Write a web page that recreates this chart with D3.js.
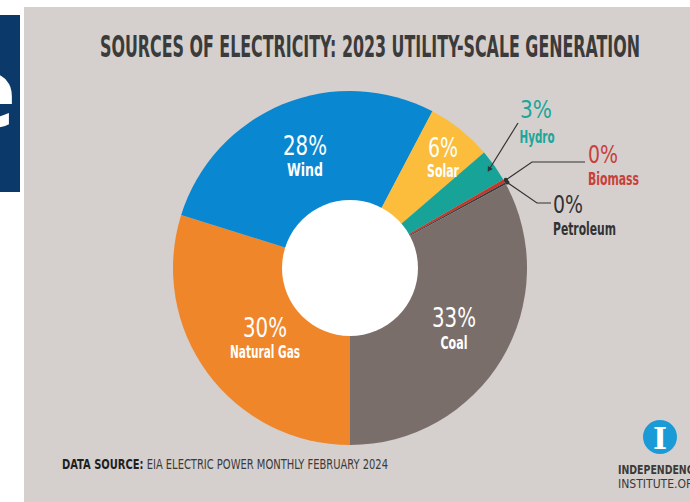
<!DOCTYPE html>
<html>
<head>
<meta charset="utf-8">
<script src="https://cdn.jsdelivr.net/npm/d3@7"></script>
<style>
  html, body { margin: 0; padding: 0; background: #ffffff; }
  svg { display: block; }
  .cond { font-family: 'Liberation Sans Narrow', 'DejaVu Sans Condensed', sans-serif; }
</style>
</head>
<body>
<svg id="chart" width="690" height="502"></svg>
<script>
// ---- data ----
const categories = ["Natural Gas", "Wind", "Solar", "Hydro", "Biomass", "Petroleum", "Coal"];
const values     = [30, 28, 6, 3, 0.3, 0.2, 33];
const labelsPct  = ["30%", "28%", "6%", "3%", "0%", "0%", "33%"];
const colors     = ["#f0862a", "#0a87d1", "#fbbd3b", "#17a398", "#c0392b", "#3a3a3a", "#7a6e6b"];
const titleText  = "SOURCES OF ELECTRICITY: 2023 UTILITY-SCALE GENERATION";
const sourceBold = "DATA SOURCE:";
const sourceText = " EIA ELECTRIC POWER MONTHLY FEBRUARY 2024";

const svg = d3.select("#chart");
const W = 690, H = 502;

// white page + left dark blue block with clipped letter
svg.append("rect").attr("width", W).attr("height", H).attr("fill", "#ffffff");
svg.append("clipPath").attr("id", "blockClip")
  .append("rect").attr("x", 0).attr("y", 15).attr("width", 20).attr("height", 177);
svg.append("rect").attr("x", 0).attr("y", 15).attr("width", 20).attr("height", 177).attr("fill", "#0b3a6a");
svg.append("text").attr("clip-path", "url(#blockClip)")
  .attr("x", 16).attr("y", 127).attr("text-anchor", "end")
  .attr("font-family", "'Open Sans', sans-serif").attr("font-weight", 700)
  .attr("font-size", 96).attr("fill", "#ffffff").text("e");

// panel
svg.append("rect").attr("x", 24).attr("y", 7).attr("width", W - 24).attr("height", H - 7).attr("fill", "#d5d0ce");

// title
svg.append("text").attr("class", "cond")
  .attr("x", 100).attr("y", 57)
  .attr("font-size", 31).attr("font-weight", 700)
  .attr("fill", "#3b3b3b")
  .attr("textLength", 540).attr("lengthAdjust", "spacingAndGlyphs")
  .text(titleText);

// donut
const cx = 350, cy = 268, outerR = 177, innerR = 68;
const data = categories.map((c, i) => ({ name: c, value: values[i], pct: labelsPct[i], color: colors[i] }));
const pie = d3.pie().value(d => d.value).sort(null).startAngle(Math.PI).endAngle(3 * Math.PI);
const arcs = pie(data);
const arc = d3.arc().innerRadius(0).outerRadius(outerR);

const g = svg.append("g").attr("transform", `translate(${cx},${cy})`);
g.selectAll("path.slice").data(arcs).enter().append("path")
  .attr("class", "slice")
  .attr("d", arc)
  .attr("fill", d => d.data.color);
g.append("circle").attr("r", innerR).attr("fill", "#ffffff");

function pt(a, r) { return [cx + r * Math.sin(a), cy - r * Math.cos(a)]; }
function mid(d) { return (d.startAngle + d.endAngle) / 2; }

// in-slice labels (white)
const inside = {
  "Natural Gas": [265, 337, 358],
  "Wind": [305, 155, 176],
  "Solar": [443, 157, 177],
  "Coal": [454, 327, 349]
};
arcs.forEach(d => {
  const p = inside[d.data.name];
  if (!p) return;
  svg.append("text").attr("class", "cond").attr("x", p[0]).attr("y", p[1])
    .attr("text-anchor", "middle").attr("font-size", 27).attr("fill", "#ffffff")
    .attr("textLength", d.data.pct.length === 2 ? 30 : 44).attr("lengthAdjust", "spacingAndGlyphs")
    .text(d.data.pct);
  const nameLen = { "Natural Gas": 70, "Wind": 36, "Solar": 32, "Coal": 27 }[d.data.name];
  svg.append("text").attr("class", "cond").attr("x", p[0]).attr("y", p[2])
    .attr("text-anchor", "middle").attr("font-size", 17).attr("font-weight", 700).attr("fill", "#ffffff")
    .attr("textLength", nameLen).attr("lengthAdjust", "spacingAndGlyphs")
    .text(d.data.name);
});

// outside labels with leader lines
const lineColor = "#333333";
const hydro = arcs[3], bio = arcs[4], pet = arcs[5];

// Hydro
const hEnd = pt(mid(hydro), outerR - 6);
svg.append("line").attr("x1", 518).attr("y1", 123).attr("x2", hEnd[0]).attr("y2", hEnd[1])
  .attr("stroke", lineColor).attr("stroke-width", 1.2);
svg.append("path").attr("d", d3.symbol().type(d3.symbolTriangle).size(14)())
  .attr("transform", `translate(${hEnd[0]},${hEnd[1]}) rotate(${Math.atan2(hEnd[1] - 123, hEnd[0] - 518) * 180 / Math.PI + 90})`)
  .attr("fill", lineColor);
svg.append("text").attr("class", "cond").attr("x", 536).attr("y", 118).attr("text-anchor", "middle")
  .attr("font-size", 25).attr("fill", "#1aa69a").attr("textLength", 32).attr("lengthAdjust", "spacingAndGlyphs").text(hydro.data.pct);
svg.append("text").attr("class", "cond").attr("x", 537).attr("y", 143).attr("text-anchor", "middle")
  .attr("font-size", 17).attr("font-weight", 700).attr("fill", "#1aa69a").attr("textLength", 35).attr("lengthAdjust", "spacingAndGlyphs").text(hydro.data.name);

// Biomass
const bEnd = pt(mid(bio), outerR + 2);
svg.append("polyline").attr("points", `585,162 532,162 ${bEnd[0]},${bEnd[1]}`)
  .attr("fill", "none").attr("stroke", lineColor).attr("stroke-width", 1.2);
svg.append("circle").attr("cx", bEnd[0]).attr("cy", bEnd[1]).attr("r", 2.2).attr("fill", lineColor);
svg.append("text").attr("class", "cond").attr("x", 588).attr("y", 163)
  .attr("font-size", 25).attr("fill", "#c8403a").attr("textLength", 30).attr("lengthAdjust", "spacingAndGlyphs").text(bio.data.pct);
svg.append("text").attr("class", "cond").attr("x", 588).attr("y", 185)
  .attr("font-size", 17).attr("font-weight", 700).attr("fill", "#c8403a").attr("textLength", 51).attr("lengthAdjust", "spacingAndGlyphs").text(bio.data.name);

// Petroleum
const pEnd = pt(mid(pet), outerR + 2);
svg.append("polyline").attr("points", `551,203 537,203 ${pEnd[0]},${pEnd[1]}`)
  .attr("fill", "none").attr("stroke", lineColor).attr("stroke-width", 1.2);
svg.append("circle").attr("cx", pEnd[0]).attr("cy", pEnd[1]).attr("r", 2.2).attr("fill", lineColor);
svg.append("text").attr("class", "cond").attr("x", 553).attr("y", 213)
  .attr("font-size", 25).attr("fill", "#333333").attr("textLength", 30).attr("lengthAdjust", "spacingAndGlyphs").text(pet.data.pct);
svg.append("text").attr("class", "cond").attr("x", 553).attr("y", 235)
  .attr("font-size", 17).attr("font-weight", 700).attr("fill", "#333333").attr("textLength", 63).attr("lengthAdjust", "spacingAndGlyphs").text(pet.data.name);

// footer source
const src = svg.append("text").attr("class", "cond").attr("x", 62).attr("y", 469)
  .attr("font-size", 14).attr("fill", "#3a3a3a")
  .attr("textLength", 326).attr("lengthAdjust", "spacingAndGlyphs");
src.append("tspan").attr("font-weight", 700).attr("fill", "#1f1f1f").text(sourceBold);
src.append("tspan").text(sourceText);

// logo
svg.append("circle").attr("cx", 660).attr("cy", 437).attr("r", 17).attr("fill", "#1a9bd7");
svg.append("text").attr("x", 660).attr("y", 449).attr("text-anchor", "middle")
  .attr("font-family", "'DejaVu Serif', serif").attr("font-weight", 700).attr("font-size", 30)
  .attr("fill", "#ffffff").text("I");
svg.append("text").attr("class", "cond").attr("x", 618).attr("y", 474)
  .attr("font-size", 12).attr("font-weight", 700).attr("fill", "#3a3a3a")
  .attr("textLength", 82).attr("lengthAdjust", "spacingAndGlyphs").text("INDEPENDENCE");
svg.append("text").attr("class", "cond").attr("x", 618).attr("y", 488)
  .attr("font-size", 12).attr("font-weight", 400).attr("fill", "#3a3a3a")
  .attr("textLength", 84).attr("lengthAdjust", "spacingAndGlyphs").text("INSTITUTE.ORG");
</script>
</body>
</html>
